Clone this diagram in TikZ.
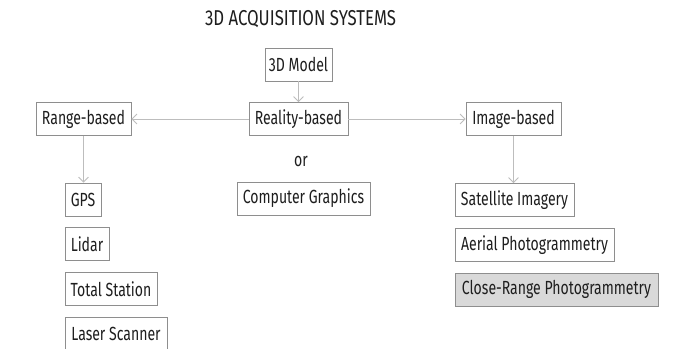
\documentclass[tikz,border=0pt]{standalone}
\usepackage{fontspec}
\setmainfont[FakeStretch=0.78]{Fira Sans}
\newfontfamily\labelfont[FakeStretch=0.74]{Fira Sans}
\usetikzlibrary{arrows.meta}
\definecolor{inkc}{HTML}{1E1E1E}
\definecolor{framec}{HTML}{8E8E8E}
\definecolor{linkc}{HTML}{BDBDBD}
\definecolor{shadec}{HTML}{D9D9D9}
\tikzset{
  box/.style={draw=framec, line width=0.8pt, text=inkc, inner sep=0pt,
    font=\labelfont\fontsize{19}{22}\selectfont, minimum height=33pt},
  shaded/.style={box, fill=shadec},
  link/.style={draw=linkc, line width=0.9pt,
    -{Straight Barb[length=5pt,width=10pt,line width=0.8pt]}},
}
\begin{document}
\begin{tikzpicture}[x=1pt,y=-1pt]
\useasboundingbox (0,0) rectangle (687,348);
\clip (0,0) rectangle (687,348);
\fill[white] (0,0) rectangle (687,348);

% heading
\node[text=inkc, font=\fontsize{21.5}{24}\selectfont] (title) at (300.5,19) {3D ACQUISITION SYSTEMS};

% top of the tree
\node[box, minimum width=67pt] (model) at (298.5,64.5) {3D Model};
\node[box, minimum width=99pt] (reality) at (298.5,119) {Reality-based};
\node[box, minimum width=95pt] (range) at (83.5,119) {Range-based};
\node[box, minimum width=95pt] (image) at (513.5,119) {Image-based};

% middle alternative
\node[text=inkc, font=\labelfont\fontsize{19}{22}\selectfont] (or) at (301,161) {or};
\node[box, minimum width=133pt] (cg) at (303.5,198.5) {Computer Graphics};

% range-based techniques
\node[box, minimum width=36pt] (gps) at (83,199.5) {GPS};
\node[box, minimum width=44pt] (lidar) at (87,244) {Lidar};
\node[box, minimum width=92pt] (total) at (111,289) {Total Station};
\node[box, minimum width=102pt] (laser) at (116,333.5) {Laser Scanner};

% image-based techniques
\node[box, minimum width=119pt] (sat) at (514.5,200) {Satellite Imagery};
\node[box, minimum width=159pt] (aerial) at (534.5,245) {Aerial Photogrammetry};
\node[shaded, minimum width=203pt] (close) at (556.5,289.5) {Close-Range Photogrammetry};

% connectors
\draw[link] (model.south) -- (reality.north);
\draw[link] (reality.west) -- (range.east);
\draw[link] (reality.east) -- (image.west);
\draw[link] (range.south) -- (range.south |- gps.north);
\draw[link] (image.south) -- (image.south |- sat.north);
\end{tikzpicture}
\end{document}
